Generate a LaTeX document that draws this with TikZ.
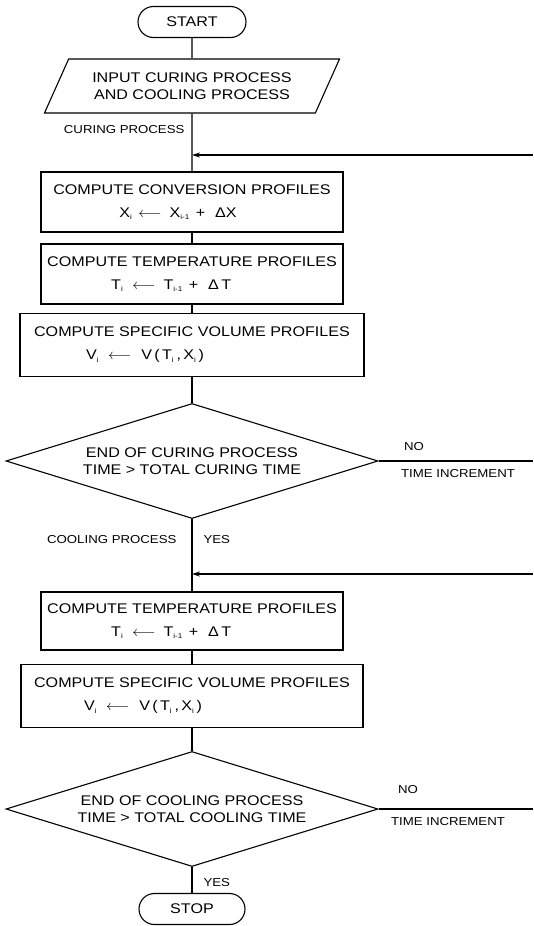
\documentclass[tikz,border=0pt]{standalone}
\usepackage{fontspec}
\setmainfont[FakeStretch=1.15]{Liberation Sans}
\usetikzlibrary{arrows.meta}
\usetikzlibrary{shapes.geometric}
\usetikzlibrary{shapes.misc}

\newcommand{\boxtext}{\fontsize{14pt}{23pt}\selectfont}
\newcommand{\tighttext}{\fontsize{14pt}{17pt}\selectfont}
\newcommand{\labeltext}{\fontsize{11.5pt}{13pt}\selectfont}
\newcommand{\idx}[1]{\textsubscript{\fontsize{7pt}{7pt}\selectfont #1}}
\newcommand{\getsarrow}{$\longleftarrow$}

\begin{document}
\begin{tikzpicture}[x=1pt,y=-1pt,line width=1.1pt,>/.tip={Stealth[length=8pt,width=5pt]},
	terminal/.style={draw,rounded rectangle,minimum width=112pt,minimum height=31pt,inner sep=2pt,font=\boxtext},
	inout/.style={draw,trapezium,trapezium left angle=52,trapezium right angle=128,trapezium stretches body,minimum width=295pt,minimum height=54pt,inner sep=2pt,align=center,font=\tighttext},
	process/.style={draw,rectangle,minimum height=60pt,inner sep=2pt,align=left,font=\boxtext},
	decision/.style={draw,diamond,aspect=3.26,minimum width=372pt,minimum height=115pt,inner sep=0pt,align=center,font=\tighttext},
	note/.style={font=\labeltext,inner sep=1pt}]
	\useasboundingbox (0,0) rectangle (533,926);

	\draw (192,22) node (start) [terminal] {START};
	\draw (192,86) node (input) [inout] {INPUT CURING PROCESS\\AND COOLING PROCESS};

	\draw (192,202) node (conv1) [process,minimum width=302pt] {COMPUTE CONVERSION PROFILES\\\hspace*{66pt}X\idx{i}\hspace{6pt}\getsarrow\hspace{8pt}X\idx{i-1}\hspace{6pt}+\hspace{10pt}ΔX};
	\draw (192,274) node (temp1) [process,minimum width=302pt] {COMPUTE TEMPERATURE PROFILES\\\hspace*{64pt}T\idx{i}\hspace{9pt}\getsarrow\hspace{8pt}T\idx{i-1}\hspace{6pt}+\hspace{10pt}Δ\,T};
	\draw (192,345) node (vol1) [process,minimum width=344pt,minimum height=63pt] {COMPUTE SPECIFIC VOLUME PROFILES\\\hspace*{52pt}V\idx{i}\hspace{9pt}\getsarrow\hspace{10pt}V\,(\,T\idx{i}\,,\,X\idx{i}\,)};
	\draw (192,461) node (end1) [decision] {END OF CURING PROCESS\\TIME > TOTAL CURING TIME};

	\draw (192,621) node (temp2) [process,minimum width=302pt,minimum height=58pt] {COMPUTE TEMPERATURE PROFILES\\\hspace*{64pt}T\idx{i}\hspace{9pt}\getsarrow\hspace{8pt}T\idx{i-1}\hspace{6pt}+\hspace{10pt}Δ\,T};
	\draw (192,696) node (vol2) [process,minimum width=342pt,minimum height=63pt] {COMPUTE SPECIFIC VOLUME PROFILES\\\hspace*{50pt}V\idx{i}\hspace{9pt}\getsarrow\hspace{10pt}V\,(\,T\idx{i}\,,\,X\idx{i}\,)};
	\draw (192,809) node (end2) [decision] {END OF COOLING PROCESS\\TIME > TOTAL COOLING TIME};
	\draw (192,909) node (stop) [terminal,minimum width=110pt] {STOP};

	% loose ends at the right margin
	\coordinate (back1) at (533,155);
	\coordinate (back2) at (533,574);
	\coordinate (no1) at (533,461);
	\coordinate (no2) at (533,809);

	\draw (start) -- (input);
	\draw (input) -- (conv1);
	\draw (conv1) -- (temp1);
	\draw (temp1) -- (vol1);
	\draw (vol1) -- (end1);
	\draw (end1) -- (temp2);
	\draw (temp2) -- (vol2);
	\draw (vol2) -- (end2);
	\draw (end2) -- (stop);

	\draw (end1.east) -- (no1);
	\draw (end2.east) -- (no2);
	\draw[->] (back1) -- (back1 -| conv1.north);
	\draw[->] (back2) -- (back2 -| temp2.north);

	\draw (186,130) node (curing) [note,anchor=east] {CURING PROCESS};
	\draw (178,540) node (cooling) [note,anchor=east] {COOLING PROCESS};
	\draw (202,540) node (yes1) [note,anchor=west] {YES};
	\draw (202,883) node (yes2) [note,anchor=west] {YES};
	\draw (414,447) node (notext1) [note] {NO};
	\draw (458,474) node (incr1) [note] {TIME INCREMENT};
	\draw (408,790) node (notext2) [note] {NO};
	\draw (448,822) node (incr2) [note] {TIME INCREMENT};
\end{tikzpicture}
\end{document}
